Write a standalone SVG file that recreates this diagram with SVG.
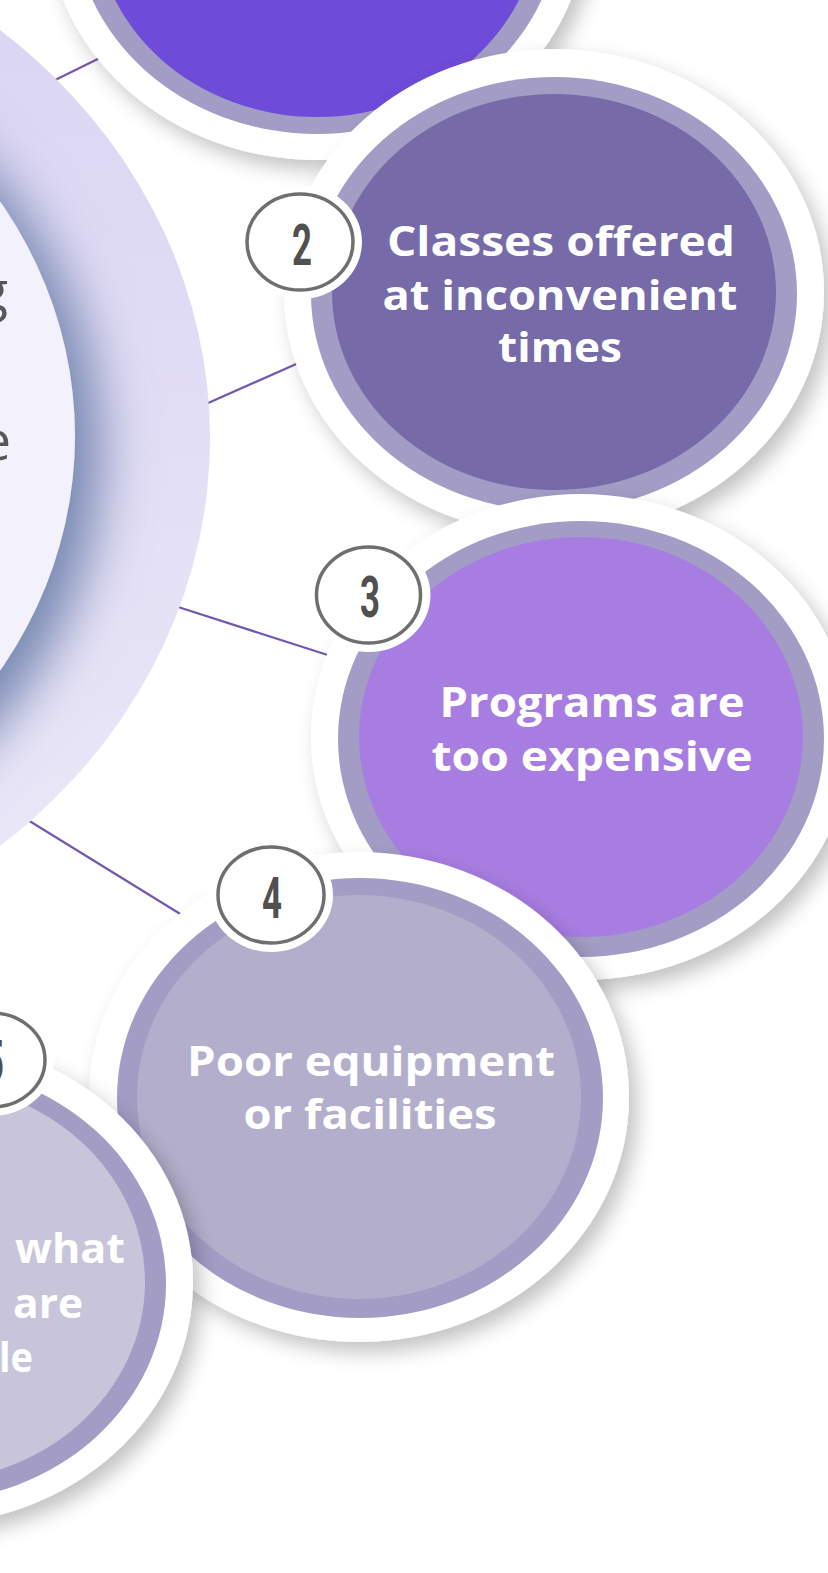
<svg xmlns="http://www.w3.org/2000/svg" width="828" height="1573" viewBox="0 0 828 1573">
  <defs>
    <filter id="sh" x="-20%" y="-20%" width="140%" height="140%">
      <feDropShadow dx="8" dy="10" stdDeviation="10" flood-color="#000" flood-opacity="0.24"/>
    </filter>
    <filter id="innerSh" x="-30%" y="-30%" width="160%" height="160%">
      <feDropShadow dx="26" dy="16" stdDeviation="27" flood-color="#7586b0" flood-opacity="1"/>
    </filter>
    <linearGradient id="outerGrad" x1="0" y1="0" x2="0" y2="1">
      <stop offset="0" stop-color="#d9d3f2"/>
      <stop offset="1" stop-color="#ece9f8"/>
    </linearGradient>
    <clipPath id="outerClip">
      <ellipse cx="-393" cy="438" rx="603" ry="538"/>
    </clipPath>
    <style>
      .ring{fill:#fff;filter:url(#sh)}
      .bord{fill:#a39dc6}
      .lbl{font-family:'Open Sans','Liberation Sans',sans-serif;font-weight:700;font-size:42px;fill:#fff;text-anchor:middle}
      .lbl5{font-family:'Open Sans','Liberation Sans',sans-serif;font-weight:700;font-size:42px;fill:#fff}
      .halo{fill:#fff}
      .badge{fill:#fff;stroke:#6f6f6f;stroke-width:3.5}
      .num{font-family:Roboto,'Liberation Sans',sans-serif;font-weight:700;font-size:58px;fill:#505050;text-anchor:middle}
      .conn{stroke:#7358b0;stroke-width:2.2;fill:none}
      .ctext{font-family:'Open Sans','Liberation Sans',sans-serif;font-weight:400;font-size:54px;fill:#575757;text-anchor:end}
    </style>
  </defs>
  <rect width="828" height="1573" fill="#fff"/>

  <g id="connectors">
    <line class="conn" x1="45" y1="85" x2="112" y2="52"/>
    <line class="conn" x1="198" y1="407.5" x2="303" y2="361"/>
    <line class="conn" x1="175" y1="606" x2="337" y2="658"/>
    <line class="conn" x1="23" y1="817" x2="190" y2="920"/>
  </g>

  <g id="center">
    <ellipse cx="-393" cy="438" rx="603" ry="538" fill="url(#outerGrad)"/>
    <g clip-path="url(#outerClip)">
      <ellipse cx="-423" cy="436" rx="498" ry="445" fill="#f3f1fb" filter="url(#innerSh)"/>
    </g>
    <text class="ctext" x="8" y="310">g</text>
    <text class="ctext" x="11" y="460">e</text>
  </g>

  <g id="node1">
    <ellipse class="ring" cx="317" cy="-83" rx="270" ry="243"/>
    <ellipse class="bord" cx="317" cy="-83" rx="243" ry="217"/>
    <ellipse cx="317" cy="-83" rx="222" ry="200" fill="#6e4bd8"/>
  </g>

  <g id="node2">
    <ellipse class="ring" cx="554" cy="292" rx="270" ry="243"/>
    <ellipse class="bord" cx="554" cy="294" rx="243" ry="217"/>
    <ellipse cx="554" cy="292" rx="222" ry="198" fill="#766aa9"/>
    <text class="lbl" x="561" y="256" textLength="348" lengthAdjust="spacingAndGlyphs">Classes offered</text>
    <text class="lbl" x="560" y="310" textLength="355" lengthAdjust="spacingAndGlyphs">at inconvenient</text>
    <text class="lbl" x="560" y="362" textLength="124" lengthAdjust="spacingAndGlyphs">times</text>
    <ellipse class="halo" cx="300" cy="242" rx="62" ry="57"/>
    <ellipse class="badge" cx="300" cy="242" rx="53" ry="48"/>
    <text class="num" transform="translate(302,265) scale(0.6,1)">2</text>
  </g>

  <g id="node3">
    <ellipse class="ring" cx="581" cy="737" rx="270" ry="243"/>
    <ellipse class="bord" cx="581" cy="739" rx="243" ry="218"/>
    <ellipse cx="581" cy="737" rx="222" ry="200" fill="#a87de2"/>
    <text class="lbl" x="592" y="717" textLength="305" lengthAdjust="spacingAndGlyphs">Programs are</text>
    <text class="lbl" x="592" y="771" textLength="321" lengthAdjust="spacingAndGlyphs">too expensive</text>
    <ellipse class="halo" cx="368.5" cy="595" rx="62" ry="57"/>
    <ellipse class="badge" cx="368.5" cy="595" rx="52" ry="48"/>
    <text class="num" transform="translate(370,617) scale(0.6,1)">3</text>
  </g>

  <g id="node4">
    <ellipse class="ring" cx="359" cy="1097" rx="270" ry="245"/>
    <ellipse class="bord" cx="360" cy="1098" rx="243" ry="220"/>
    <ellipse cx="359" cy="1097" rx="222" ry="202" fill="#b3aecb"/>
    <text class="lbl" x="371" y="1076" textLength="368" lengthAdjust="spacingAndGlyphs">Poor equipment</text>
    <text class="lbl" x="370" y="1129" textLength="253" lengthAdjust="spacingAndGlyphs">or facilities</text>
    <ellipse class="halo" cx="271" cy="895" rx="62" ry="57"/>
    <ellipse class="badge" cx="271" cy="895" rx="53" ry="48"/>
    <text class="num" transform="translate(272,918) scale(0.6,1)">4</text>
  </g>

  <g id="node5">
    <ellipse class="ring" cx="-77" cy="1282" rx="270" ry="243"/>
    <ellipse class="bord" cx="-77" cy="1284" rx="243" ry="218"/>
    <ellipse cx="-77" cy="1282" rx="222" ry="200" fill="#c8c4da"/>
    <text class="lbl5" x="15" y="1263" textLength="110" lengthAdjust="spacingAndGlyphs">what</text>
    <text class="lbl5" x="13" y="1318" textLength="70" lengthAdjust="spacingAndGlyphs">are</text>
    <text class="lbl5" x="-1" y="1372" textLength="34" lengthAdjust="spacingAndGlyphs">le</text>
    <ellipse class="halo" cx="-8" cy="1060" rx="62" ry="56"/>
    <ellipse class="badge" cx="-8" cy="1060" rx="53" ry="47"/>
    <text class="num" transform="translate(-6,1081) scale(0.6,1)">5</text>
  </g>
</svg>
